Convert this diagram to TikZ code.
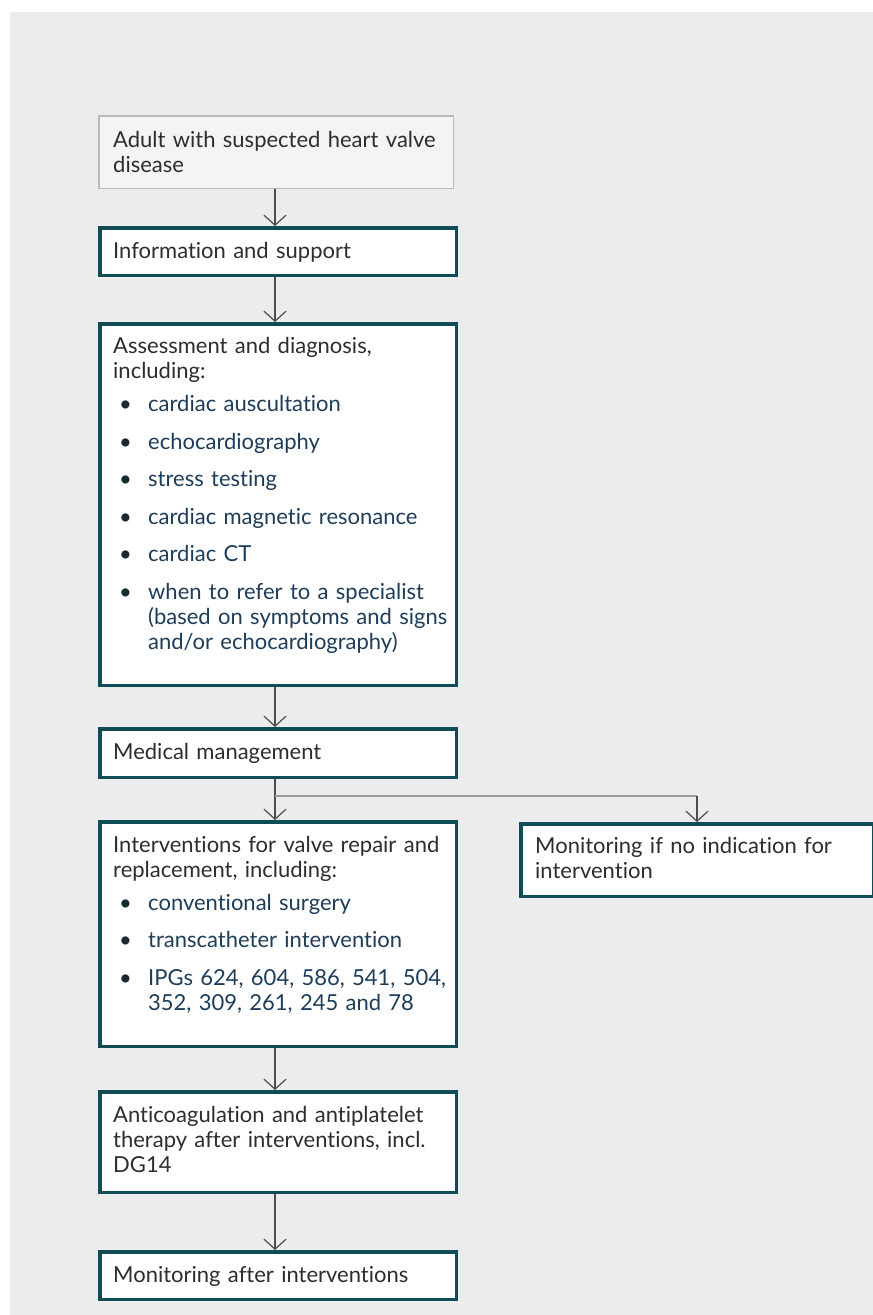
\documentclass[tikz,border=0pt]{standalone}
\usepackage{fontspec}
\setmainfont{Lato}[Ligatures=NoCommon, WordSpace=0.85]
\usetikzlibrary{arrows.meta,calc}
\definecolor{panel}{HTML}{ECECEC}
\definecolor{boxline}{HTML}{0F4C55}
\definecolor{startline}{HTML}{B4BCC0}
\definecolor{startfill}{HTML}{F4F4F4}
\definecolor{maintext}{HTML}{2D2D2D}
\definecolor{linkc}{HTML}{1D3D5A}
\definecolor{bulc}{HTML}{1A2A33}
\definecolor{arrowc}{HTML}{4D4D4D}
\definecolor{branchc}{HTML}{999999}
\newcommand{\bitem}[2][12.5pt]{\par\vspace{#1}\hangindent=35pt\hangafter=1\noindent\makebox[35pt][l]{\hspace{6pt}\textcolor{bulc}{\textbullet}}\textcolor{linkc}{#2}\par}
\tikzset{
  mainbox/.style={draw=boxline, line width=3.5pt, fill=white, inner sep=0pt, anchor=north west},
  startbox/.style={draw=startline, line width=1.5pt, fill=startfill, inner sep=0pt, anchor=north west},
  txt/.style={anchor=base west, inner sep=0pt, text width=345pt, text=maintext,
    font=\fontsize{22}{25}\selectfont},
  arrowline/.style={draw=arrowc, line width=1.2pt, -{Straight Barb[length=10pt,width=22pt,line width=1.2pt]}},
  branchline/.style={draw=branchc, line width=2.6pt},
}
\begin{document}
\begin{tikzpicture}[x=1pt,y=-1pt]
\useasboundingbox (0,0) rectangle (873,1315);
\clip (0,0) rectangle (873,1315);
\fill[panel] (10,12) rectangle (873,1315);

% boxes (outer corners)
\node[startbox, minimum width=354.5pt, minimum height=72.5pt] (b1) at (98,115) {};
\node[mainbox, minimum width=356.5pt, minimum height=47.5pt] (b2) at (98,226) {};
\node[mainbox, minimum width=356.5pt, minimum height=361.5pt] (b3) at (98,322) {};
\node[mainbox, minimum width=356.5pt, minimum height=48.5pt] (b4) at (98,727) {};
\node[mainbox, minimum width=356.5pt, minimum height=224.5pt] (b5) at (98,820) {};
\node[mainbox, minimum width=352.5pt, minimum height=72.5pt] (b6) at (519,822) {};
\node[mainbox, minimum width=356.5pt, minimum height=100.5pt] (b7) at (98,1090) {};
\node[mainbox, minimum width=356.5pt, minimum height=47.5pt] (b8) at (98,1250) {};

% texts
\node[txt] (t1) at (113,147) {\raggedright Adult with suspected heart valve\\ disease};
\node[txt] (t2) at (113,258) {Information and support};
\node[txt] (t3) at (113,353) {\raggedright Assessment and diagnosis,\\ including:
  \bitem[8.5pt]{cardiac auscultation}
  \bitem{echocardiography}
  \bitem{stress testing}
  \bitem{cardiac magnetic resonance}
  \bitem{cardiac CT}
  \bitem{when to refer to a specialist\newline (based on symptoms and signs\newline and/or echocardiography)}};
\node[txt] (t4) at (113,759) {Medical management};
\node[txt] (t5) at (113,852) {\raggedright Interventions for valve repair and\\ replacement, including:
  \bitem[8pt]{conventional surgery}
  \bitem{transcatheter intervention}
  \bitem{IPGs 624, 604, 586, 541, 504,\newline 352, 309, 261, 245 and 78}};
\node[txt] (t6) at (535,853) {\raggedright Monitoring if no indication for\\ intervention};
\node[txt] (t7) at (113,1122) {\raggedright Anticoagulation and antiplatelet\\ therapy after interventions, incl.\\ DG14};
\node[txt] (t8) at (113,1282) {Monitoring after interventions};

% connectors
\coordinate (ax) at (275,0);
\draw[arrowline] (b1.south -| ax) -- (b2.north -| ax);
\draw[arrowline] (b2.south -| ax) -- (b3.north -| ax);
\draw[arrowline] (b3.south -| ax) -- (b4.north -| ax);
\draw[arrowline] (b4.south -| ax) -- (b5.north -| ax);
\coordinate (br) at ($(b4.south -| ax)!0.415!(b5.north -| ax)$);
\coordinate (br2) at (b6.north |- br);
\draw[branchline] (br) -- (br2);
\draw[arrowline] (br2) -- (b6.north);
\draw[arrowline] (b5.south -| ax) -- (b7.north -| ax);
\draw[arrowline] (b7.south -| ax) -- (b8.north -| ax);
\end{tikzpicture}
\end{document}
